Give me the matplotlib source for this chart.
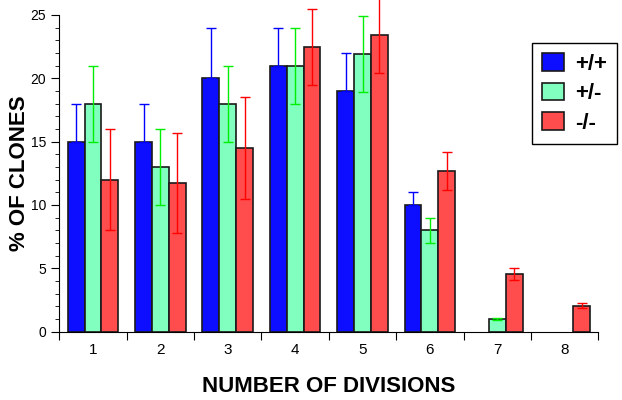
import numpy as np
import matplotlib.pyplot as plt
from matplotlib.ticker import MultipleLocator

plt.rcParams['font.family'] = ['Liberation Sans', 'DejaVu Sans']

# -------------------------------------------------------------------
# Data
# -------------------------------------------------------------------
divisions = [1, 2, 3, 4, 5, 6, 7, 8]
genotypes = ['+/+', '+/-', '-/-']

wt_vals   = [15, 15, 20, 21, 19, 10, 0, 0]
wt_err    = [3, 3, 4, 3, 3, 1, 0, 0]

het_vals  = [18, 13, 18, 21, 21.9, 8, 1, 0]
het_err   = [3, 3, 3, 3, 3, 1, 0.05, 0]

ko_vals   = [12, 11.7, 14.5, 22.5, 23.45, 12.7, 4.55, 2.05]
ko_err    = [4, 3.95, 4, 3, 3, 1.5, 0.45, 0.18]

bar_colors = ['#0d0dff', '#80ffbf', '#ff4d4d']
err_colors = ['#0000ff', '#00ee00', '#ff0000']

# -------------------------------------------------------------------
# Plot
# -------------------------------------------------------------------
fig = plt.figure(figsize=(6.22, 4.0), dpi=100)
ax = fig.add_axes([0.0953, 0.171, 0.8667, 0.7915])

x = np.array(divisions, dtype=float)
width = 0.25
series = [(wt_vals, wt_err), (het_vals, het_err), (ko_vals, ko_err)]

for k, (vals, errs) in enumerate(series):
    xpos = x + (k - 1) * width
    vals = np.array(vals, dtype=float)
    errs = np.array(errs, dtype=float)
    mask = vals > 0
    ax.bar(xpos[mask], vals[mask], width, color=bar_colors[k],
           edgecolor='#1a1a1a', linewidth=1.2, label=genotypes[k], zorder=2)
    # +/+ shows only the upper half of its error bar
    if k == 0:
        yerr = [np.zeros(mask.sum()), errs[mask]]
    else:
        yerr = errs[mask]
    ax.errorbar(xpos[mask], vals[mask], yerr=yerr, fmt='none',
                ecolor=err_colors[k], elinewidth=1.0, capsize=3.5,
                capthick=1.0, zorder=3, clip_on=False)

ax.set_xlim(0.5, 8.5)
ax.set_ylim(0, 25)

ax.spines['top'].set_visible(False)
ax.spines['right'].set_visible(False)

ax.yaxis.set_major_locator(MultipleLocator(5))
ax.yaxis.set_minor_locator(MultipleLocator(1))
ax.tick_params(axis='y', which='major', length=6, labelsize=10)
ax.tick_params(axis='y', which='minor', length=3)

# category labels centred, ticks on group boundaries
ax.set_xticks(np.arange(0.5, 9.0, 1.0))
ax.set_xticklabels([''] * 9)
ax.set_xticks(x, minor=True)
ax.set_xticklabels([str(d) for d in divisions], minor=True, fontsize=11)
ax.tick_params(axis='x', which='major', length=6)
ax.tick_params(axis='x', which='minor', length=0, pad=8)

ax.set_xlabel('NUMBER OF DIVISIONS', fontsize=16, fontweight='bold', labelpad=14)
ax.set_ylabel('% OF CLONES', fontsize=16, fontweight='bold')
ax.yaxis.set_label_coords(20 / 622, 0.5675, transform=fig.transFigure)
ax.yaxis.label.set_va('center')

leg = ax.legend(loc='upper left', bbox_to_anchor=(0.855, 0.892),
                bbox_transform=fig.transFigure, fancybox=False,
                edgecolor='black', framealpha=1, shadow=False,
                prop={'weight': 'bold', 'size': 16}, borderaxespad=0,
                handlelength=1.0, handleheight=0.86, labelspacing=0.35,
                borderpad=0.45, handletextpad=0.5)
leg.get_frame().set_linewidth(1.0)

fig.savefig('out.png', dpi=100)
